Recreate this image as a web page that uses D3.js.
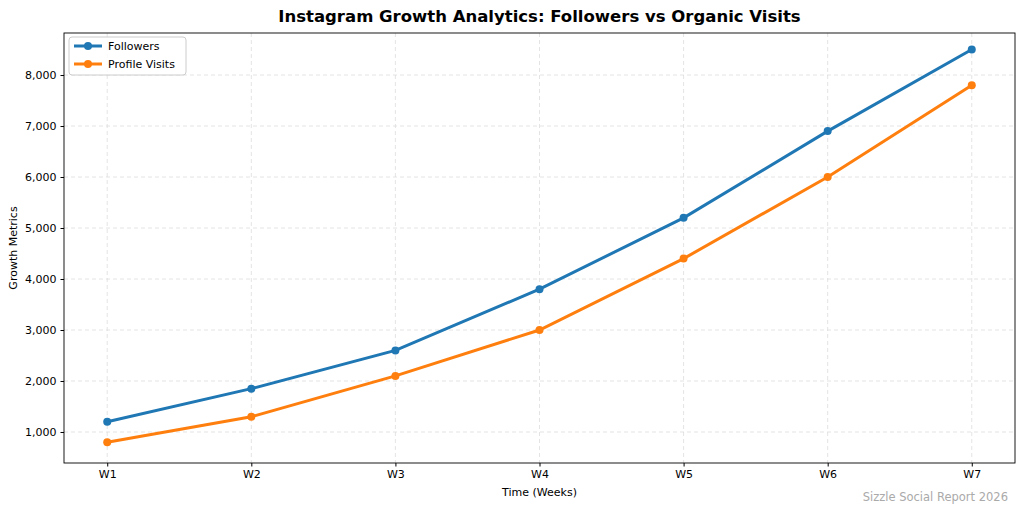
<!DOCTYPE html><html><head><meta charset="utf-8">
<script src="https://cdn.jsdelivr.net/npm/d3@7"></script>
<style>body{margin:0;background:#fff}text{font-family:"DejaVu Sans",sans-serif}</style></head><body>
<svg id="c" width="1024" height="513"></svg>
<script>
const weeks=["W1","W2","W3","W4","W5","W6","W7"];
const followers=[1200,1850,2600,3800,5200,6900,8500];
const visits=[800,1300,2100,3000,4400,6000,7800];
const yTicks=[1000,2000,3000,4000,5000,6000,7000,8000];
const svg=d3.select("#c");
const L=64,R=1015,T=33,B=463;
const x=d3.scaleLinear().domain([-0.3,6.3]).range([L,R]);
const y=d3.scaleLinear().domain([392,8824]).range([B,T]);
const g=svg.append("g");
weeks.forEach((w,i)=>g.append("line").attr("x1",x(i)).attr("x2",x(i)).attr("y1",T).attr("y2",B).attr("stroke","#ddd").attr("stroke-dasharray","4,3").attr("stroke-width",0.8));
yTicks.forEach(v=>g.append("line").attr("x1",L).attr("x2",R).attr("y1",y(v)).attr("y2",y(v)).attr("stroke","#ddd").attr("stroke-dasharray","4,3").attr("stroke-width",0.8));
svg.append("g").attr("transform",`translate(0,${B})`).call(d3.axisBottom(x).tickValues(d3.range(7)).tickFormat(i=>weeks[i]).tickSize(3.5).tickPadding(4)).call(a=>a.select(".domain").remove()).selectAll("text").attr("font-size",11).attr("fill","#000");
svg.append("g").attr("transform",`translate(${L},0)`).call(d3.axisLeft(y).tickValues(yTicks).tickSize(3.5).tickPadding(4)).call(a=>a.select(".domain").remove()).selectAll("text").attr("font-size",11).attr("fill","#000");
svg.append("rect").attr("x",L).attr("y",T).attr("width",R-L).attr("height",B-T).attr("fill","none").attr("stroke","#000").attr("stroke-width",0.9);
const line=d3.line().x((d,i)=>x(i)).y(d=>y(d));
[[followers,"#1f77b4"],[visits,"#ff7f0e"]].forEach(([d,c])=>{
svg.append("path").attr("d",line(d)).attr("fill","none").attr("stroke",c).attr("stroke-width",3);
svg.selectAll(null).data(d).enter().append("circle").attr("cx",(v,i)=>x(i)).attr("cy",v=>y(v)).attr("r",4).attr("fill",c);});
svg.append("text").attr("x",(L+R)/2).attr("y",22).attr("text-anchor","middle").attr("font-size",16.5).attr("font-weight","bold").text("Instagram Growth Analytics: Followers vs Organic Visits");
svg.append("text").attr("x",(L+R)/2).attr("y",496).attr("text-anchor","middle").attr("font-size",11).text("Time (Weeks)");
svg.append("text").attr("transform",`translate(17,${(T+B)/2}) rotate(-90)`).attr("text-anchor","middle").attr("font-size",11).text("Growth Metrics");
svg.append("text").attr("x",1008).attr("y",501).attr("text-anchor","end").attr("font-size",11.5).attr("fill","#aaa").text("Sizzle Social Report 2026");
const lg=svg.append("g");
lg.append("rect").attr("x",69).attr("y",37).attr("width",117).attr("height",38).attr("rx",3).attr("fill","#fff").attr("fill-opacity",0.8).attr("stroke","#ccc");
[["Followers","#1f77b4"],["Profile Visits","#ff7f0e"]].forEach(([t,c],i)=>{const yy=46+i*18;
lg.append("line").attr("x1",74).attr("x2",102).attr("y1",yy).attr("y2",yy).attr("stroke",c).attr("stroke-width",3);
lg.append("circle").attr("cx",88).attr("cy",yy).attr("r",4).attr("fill",c);
lg.append("text").attr("x",108).attr("y",yy+4).attr("font-size",11).text(t);});
</script></body></html>
